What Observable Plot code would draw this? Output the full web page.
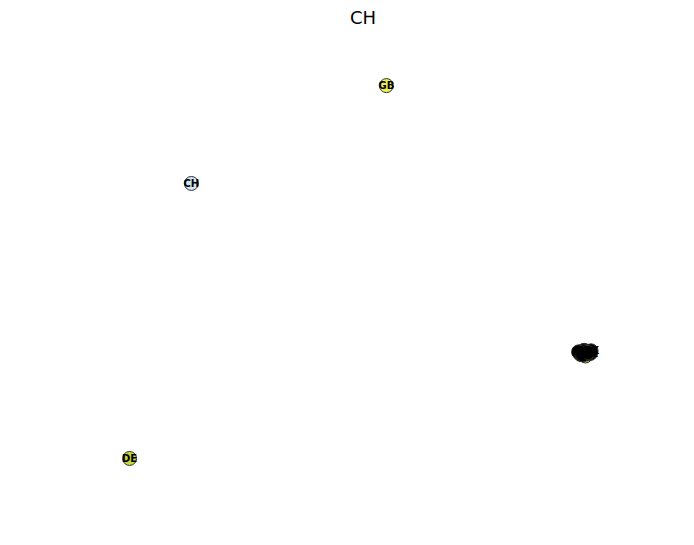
<!DOCTYPE html>
<html>
<head>
<meta charset="utf-8">
<script src="https://cdn.jsdelivr.net/npm/d3@7"></script>
<script src="https://cdn.jsdelivr.net/npm/@observablehq/plot@0.6"></script>
<style>
  html, body { margin: 0; padding: 0; background: #fff; }
  #wrap { position: relative; width: 694px; }
  #title { height: 30px; position: relative; font-family: "DejaVu Sans", sans-serif; font-size: 18px; color: #000; }
  #title span { position: absolute; left: 363px; top: 7px; transform: translateX(-50%); }
</style>
</head>
<body>
<div id="wrap">
  <div id="title"><span>CH</span></div>
  <div id="chart"></div>
</div>
<script>
const titleText = "CH";
const labels = ["GB", "CH", "DE", "LU", "AT", "BE", "FR", "IT", "NL", "ES", "SE", "DK", "NO", "FI", "PL"];
const xs =     [55.6, 27.5, 18.6, 84.3, 83.4, 84.1, 84.9, 83.6, 85.0, 84.0, 83.3, 85.1, 84.5, 83.9, 84.6];
const ys =     [89.3, 70.3, 16.9, 36.8, 37.4, 37.9, 37.6, 37.1, 37.3, 37.8, 37.6, 37.8, 37.2, 37.0, 37.5];
const fills =  ["#ecef55", "#cfe6f2", "#c8d640", "#c8d640", "#000", "#000", "#000", "#000", "#000", "#000", "#000", "#000", "#000", "#000", "#000"];

const data = labels.map((l, i) => ({label: l, x: xs[i], y: ys[i], fill: fills[i]}));

const chart = Plot.plot({
  width: 694,
  height: 515,
  margin: 0,
  x: {domain: [0, 100], axis: null},
  y: {domain: [0, 100], axis: null},
  marks: [
    Plot.dot(data, {x: "x", y: "y", r: 7, fill: "fill", stroke: "#333", strokeWidth: 1}),
    Plot.text(data, {x: "x", y: "y", text: "label", fill: "#000", fontSize: 10, fontWeight: 600, fontFamily: "DejaVu Sans"})
  ]
});
document.getElementById("chart").appendChild(chart);
</script>
</body>
</html>
